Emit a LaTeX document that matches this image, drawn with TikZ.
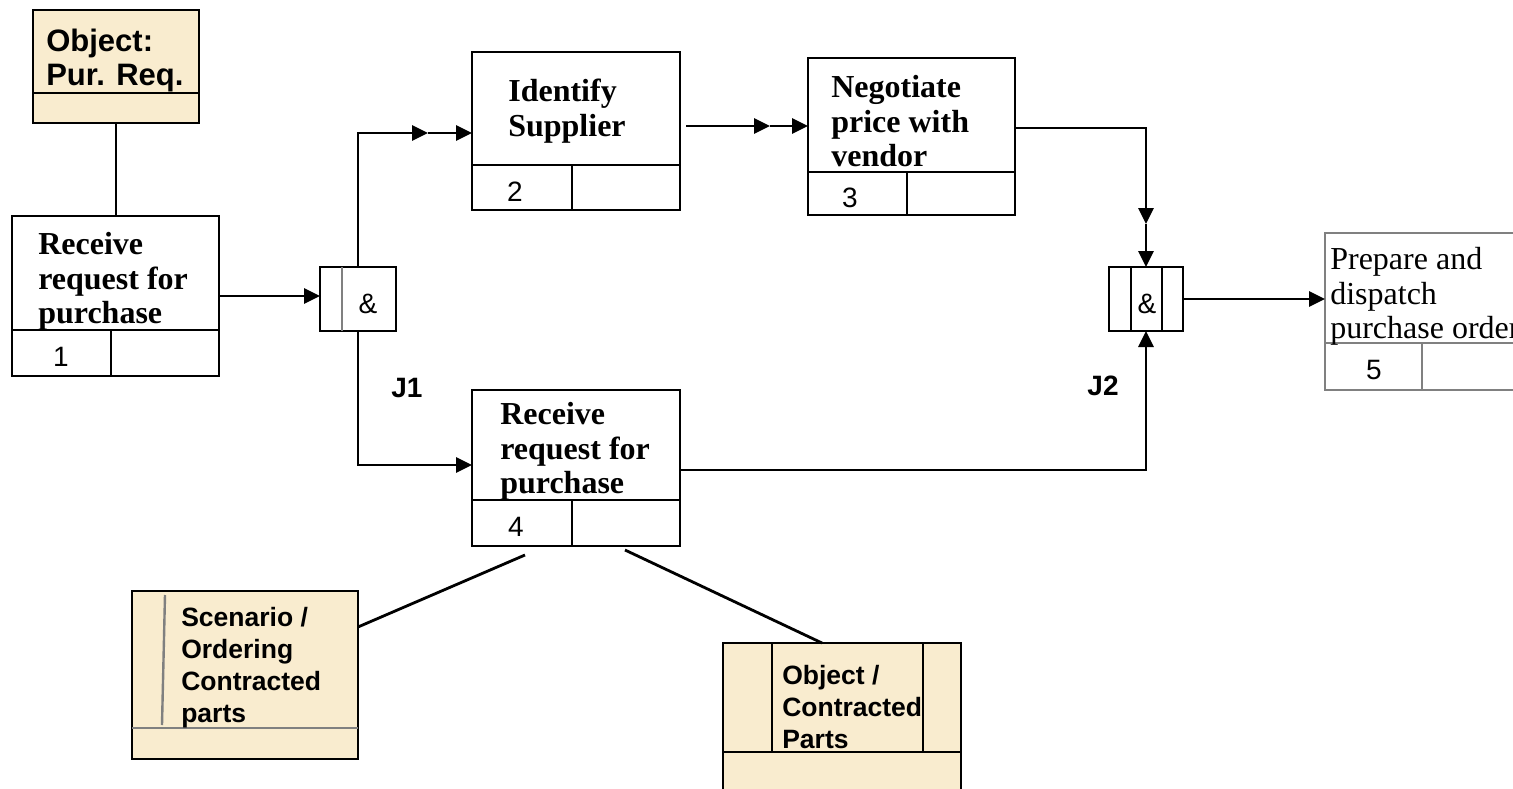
\documentclass[tikz,border=0pt]{standalone}
\usepackage{fontspec}
\setmainfont{Liberation Serif}
\setsansfont{Liberation Sans}
\usetikzlibrary{arrows.meta}
\definecolor{parch}{RGB}{249,236,207}
\definecolor{rulegray}{RGB}{128,128,128}
\begin{document}
\begin{tikzpicture}[x=1pt,y=-1pt,line width=2.6pt,
  frame/.style={draw=black, line width=2.8pt, rectangle, anchor=north west, inner sep=0pt, outer sep=0pt},
  object/.style={frame, fill=parch},
  ptext/.style={anchor=north west, inner sep=0pt, align=left, font=\fontsize{32}{34.5}\selectfont\bfseries},
  otext/.style={anchor=north west, inner sep=0pt, align=left, font=\sffamily\bfseries\fontsize{26.5}{32}\selectfont},
  num/.style={inner sep=0pt, font=\sffamily\fontsize{28}{28}\selectfont},
  jlabel/.style={inner sep=0pt, font=\sffamily\bfseries\fontsize{28}{28}\selectfont},
  conn/.style={line width=2.8pt},
  arr/.style={conn, -{Triangle[length=16pt,width=15pt]}},
  rule/.style={line width=2.8pt},
]
\clip (0,0) rectangle (1513,789);
\fill[white] (0,0) rectangle (1513,789);

% object: purchase requisition
\node[object, minimum width=166pt, minimum height=113pt] (objpr) at (33,10) {};
\draw[rule] (33,93) -- (199,93);
\node[otext, font=\sffamily\bfseries\fontsize{31}{34}\selectfont] (objprt) at (45,28) {Object:\\Pur. Req.};

% function 1
\node[frame, minimum width=207pt, minimum height=160pt] (p1) at (12,216) {};
\draw[rule] (12,330) -- (219,330) (111,330) -- (111,376);
\node[ptext] (p1t) at (37,231) {Receive\\request for\\purchase};
\node[num] (p1n) at (61,357) {1};

% junction J1
\node[frame, minimum width=76pt, minimum height=64pt] (j1) at (320,267) {};
\draw[rulegray] (342,267) -- (342,331);
\node[num] (j1a) at (368,304) {\&};
\node[jlabel] (j1l) at (407,388) {J1};

% function 2
\node[frame, minimum width=208pt, minimum height=158pt] (p2) at (472,52) {};
\draw[rule] (472,165) -- (680,165) (572,165) -- (572,210);
\node[ptext] (p2t) at (507,78) {Identify\\Supplier};
\node[num] (p2n) at (515,192) {2};

% function 3
\node[frame, minimum width=207pt, minimum height=157pt] (p3) at (808,58) {};
\draw[rule] (808,172) -- (1015,172) (907,172) -- (907,215);
\node[ptext] (p3t) at (830,74) {Negotiate\\price with\\vendor};
\node[num] (p3n) at (850,198) {3};

% function 4
\node[frame, minimum width=208pt, minimum height=156pt] (p4) at (472,390) {};
\draw[rule] (472,500) -- (680,500) (572,500) -- (572,546);
\node[ptext] (p4t) at (499,401) {Receive\\request for\\purchase};
\node[num] (p4n) at (516,527) {4};

% junction J2
\node[frame, minimum width=74pt, minimum height=64pt] (j2) at (1109,267) {};
\draw[rule] (1131,267) -- (1131,331) (1162,267) -- (1162,331);
\node[num] (j2a) at (1147,304) {\&};
\node[jlabel] (j2l) at (1103,386) {J2};

% function 5
\node[frame, draw=rulegray, minimum width=200pt, minimum height=157pt] (p5) at (1325,233) {};
\draw[rule, rulegray] (1325,343) -- (1525,343) (1422,343) -- (1422,390);
\node[ptext, font=\fontsize{32}{34.5}\selectfont] (p5t) at (1329,246) {Prepare and\\dispatch\\purchase order};
\node[num] (p5n) at (1374,370) {5};

% scenario
\node[object, minimum width=226pt, minimum height=168pt] (scen) at (132,591) {};
\draw[rule, rulegray] (132,728) -- (358,728);
\draw[rulegray, line width=2.4pt] (165,595) -- (162,725);
\node[otext] (scent) at (180,606) {Scenario /\\Ordering\\Contracted\\parts};

% object: contracted parts
\node[object, minimum width=238pt, minimum height=200pt] (objcp) at (723,643) {};
\draw[rule] (723,752) -- (961,752) (772,643) -- (772,752) (923,643) -- (923,752);
\node[otext] (objcpt) at (781,664) {Object /\\Contracted\\Parts};

% connectors
\draw[conn] (objpr.south) -- (objpr.south |- p1.north);
\draw[arr] (p1.east) -- (p1.east -| j1.west);
\coordinate (m1) at (428,133);
\draw[arr] (j1.north) |- (m1);
\draw[arr] (m1) -- (m1 -| p2.west);
\coordinate (p4in) at (472,465);
\draw[arr] (j1.south) |- (p4in);
\coordinate (s23) at (686,126);
\coordinate (m2) at (770,126);
\draw[arr] (s23) -- (m2);
\draw[arr] (m2) -- (m2 -| p3.west);
\coordinate (p3out) at (1015,128);
\coordinate (m3) at (1146,224);
\draw[arr] (p3out) -| (m3);
\draw[arr] (m3) -- (j2.north);
\coordinate (p4out) at (680,470);
\draw[arr] (p4out) -| (j2.south);
\draw[arr] (j2.east) -- (j2.east -| p5.west);
\draw[conn] ([xshift=53pt,yshift=-9pt]p4.south west) -- ([yshift=-36pt]scen.north east);
\draw[conn] ([xshift=153pt,yshift=-4pt]p4.south west) -- ([xshift=99pt]objcp.north west);
\end{tikzpicture}
\end{document}
